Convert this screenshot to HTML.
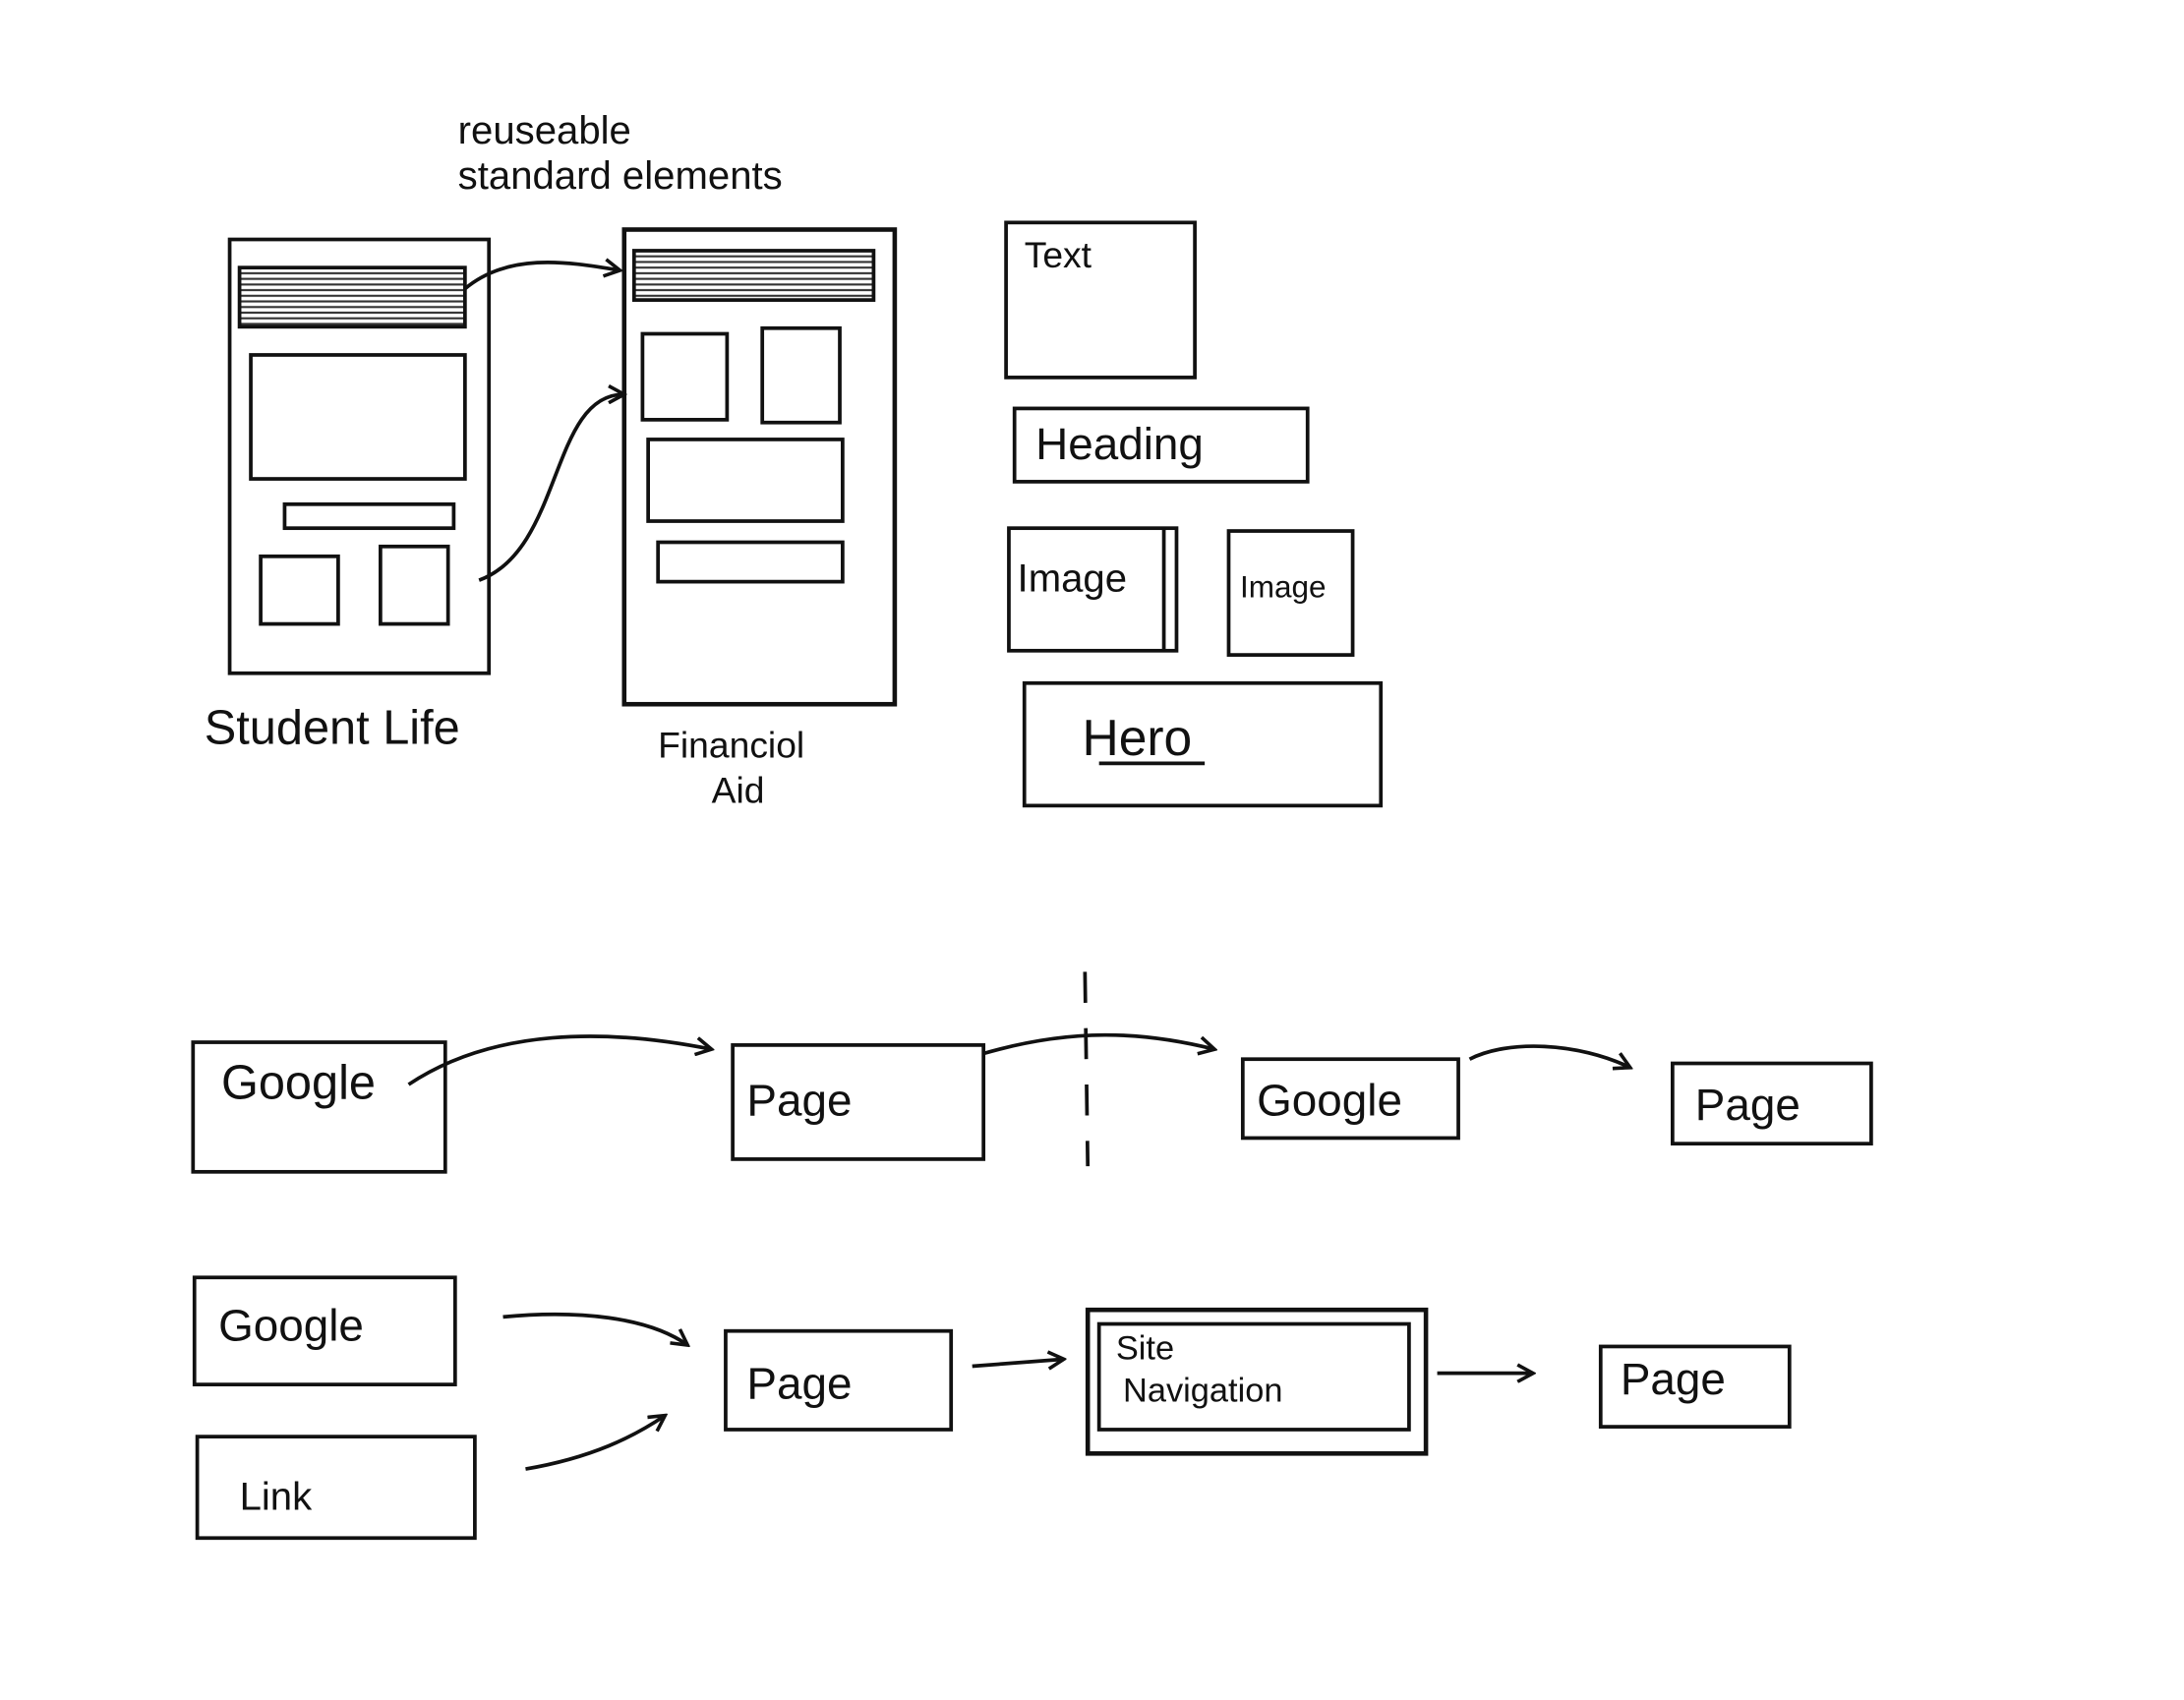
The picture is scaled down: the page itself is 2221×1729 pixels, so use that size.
<!DOCTYPE html>
<html><head><meta charset="utf-8"><style>
html,body{margin:0;padding:0;background:#fff;}
svg{display:block;}
text{font-family:"Liberation Sans",sans-serif;fill:#111;}
</style></head><body>
<svg width="2221" height="1729" viewBox="0 0 1550 1207" preserveAspectRatio="none" xmlns="http://www.w3.org/2000/svg">
<defs>
<marker id="a" markerWidth="14" markerHeight="14" refX="12" refY="7" orient="auto" markerUnits="userSpaceOnUse">
<path d="M1,1 L12,7 L1,13" fill="none" stroke="#111" stroke-width="2.5"/>
</marker>
<pattern id="h" width="6" height="4" patternUnits="userSpaceOnUse"><line x1="0" y1="2" x2="6" y2="2" stroke="#333" stroke-width="1.5"/></pattern>
</defs>
<g fill="none" stroke="#111" stroke-width="2.6">
<!-- Student Life phone -->
<rect x="163" y="170" width="184" height="308"/>
<rect x="170" y="190" width="160" height="42" fill="url(#h)"/>
<rect x="178" y="252" width="152" height="88"/>
<rect x="202" y="358" width="120" height="17"/>
<rect x="185" y="395" width="55" height="48"/>
<rect x="270" y="388" width="48" height="55"/>
<!-- Financial Aid phone -->
<rect x="443" y="163" width="192" height="337" stroke-width="3.2"/>
<rect x="450" y="178" width="170" height="35" fill="url(#h)"/>
<rect x="456" y="237" width="60" height="61"/>
<rect x="541" y="233" width="55" height="67"/>
<rect x="460" y="312" width="138" height="58"/>
<rect x="467" y="385" width="131" height="28"/>
<path d="M330,205 C360,180 400,185 440,192" marker-end="url(#a)"/>
<path d="M340,412 C400,390 390,280 443,280" marker-end="url(#a)"/>
<!-- elements -->
<rect x="714" y="158" width="134" height="110"/>
<rect x="720" y="290" width="208" height="52"/>
<rect x="716" y="375" width="119" height="87"/>
<line x1="826" y1="375" x2="826" y2="462"/>
<rect x="872" y="377" width="88" height="88"/>
<rect x="727" y="485" width="253" height="87"/>
<line x1="780" y1="542" x2="855" y2="542"/>
<!-- row 1 -->
<rect x="137" y="740" width="179" height="92"/>
<path d="M290,770 C350,730 430,730 505,745" marker-end="url(#a)"/>
<rect x="520" y="742" width="178" height="81"/>
<path d="M698,748 C760,730 810,732 862,745" marker-end="url(#a)"/>
<line x1="770" y1="690" x2="772" y2="828" stroke-dasharray="22,18"/>
<rect x="882" y="752" width="153" height="56"/>
<path d="M1043,752 C1070,738 1120,740 1157,758" marker-end="url(#a)"/>
<rect x="1187" y="755" width="141" height="57"/>
<!-- row 2 -->
<rect x="138" y="907" width="185" height="76"/>
<rect x="140" y="1020" width="197" height="72"/>
<path d="M357,935 C410,930 460,935 488,955" marker-end="url(#a)"/>
<path d="M373,1043 C420,1035 450,1020 472,1005" marker-end="url(#a)"/>
<rect x="515" y="945" width="160" height="70"/>
<path d="M690,970 L755,965" marker-end="url(#a)"/>
<rect x="772" y="930" width="240" height="102" stroke-width="3.2"/>
<rect x="780" y="940" width="220" height="75"/>
<path d="M1020,975 L1088,975" marker-end="url(#a)"/>
<rect x="1136" y="956" width="134" height="57"/>
</g>
<g font-size="28">
<text x="325" y="102">reuseable</text>
<text x="325" y="134">standard elements</text>
<text x="145" y="528" font-size="34">Student Life</text>
<text x="467" y="538" font-size="26">Financiol</text>
<text x="505" y="570" font-size="26">Aid</text>
<text x="727" y="190" font-size="26">Text</text>
<text x="735" y="326" font-size="32">Heading</text>
<text x="722" y="420" font-size="28">Image</text>
<text x="880" y="424" font-size="22">Image</text>
<text x="768" y="536" font-size="36">Hero</text>
<text x="157" y="780" font-size="34">Google</text>
<text x="530" y="792" font-size="32">Page</text>
<text x="892" y="792" font-size="32">Google</text>
<text x="1203" y="795" font-size="32">Page</text>
<text x="155" y="952" font-size="32">Google</text>
<text x="170" y="1072" font-size="28">Link</text>
<text x="530" y="993" font-size="32">Page</text>
<text x="792" y="965" font-size="24">Site</text>
<text x="797" y="995" font-size="24">Navigation</text>
<text x="1150" y="990" font-size="32">Page</text>
</g>
</svg>
</body></html>
